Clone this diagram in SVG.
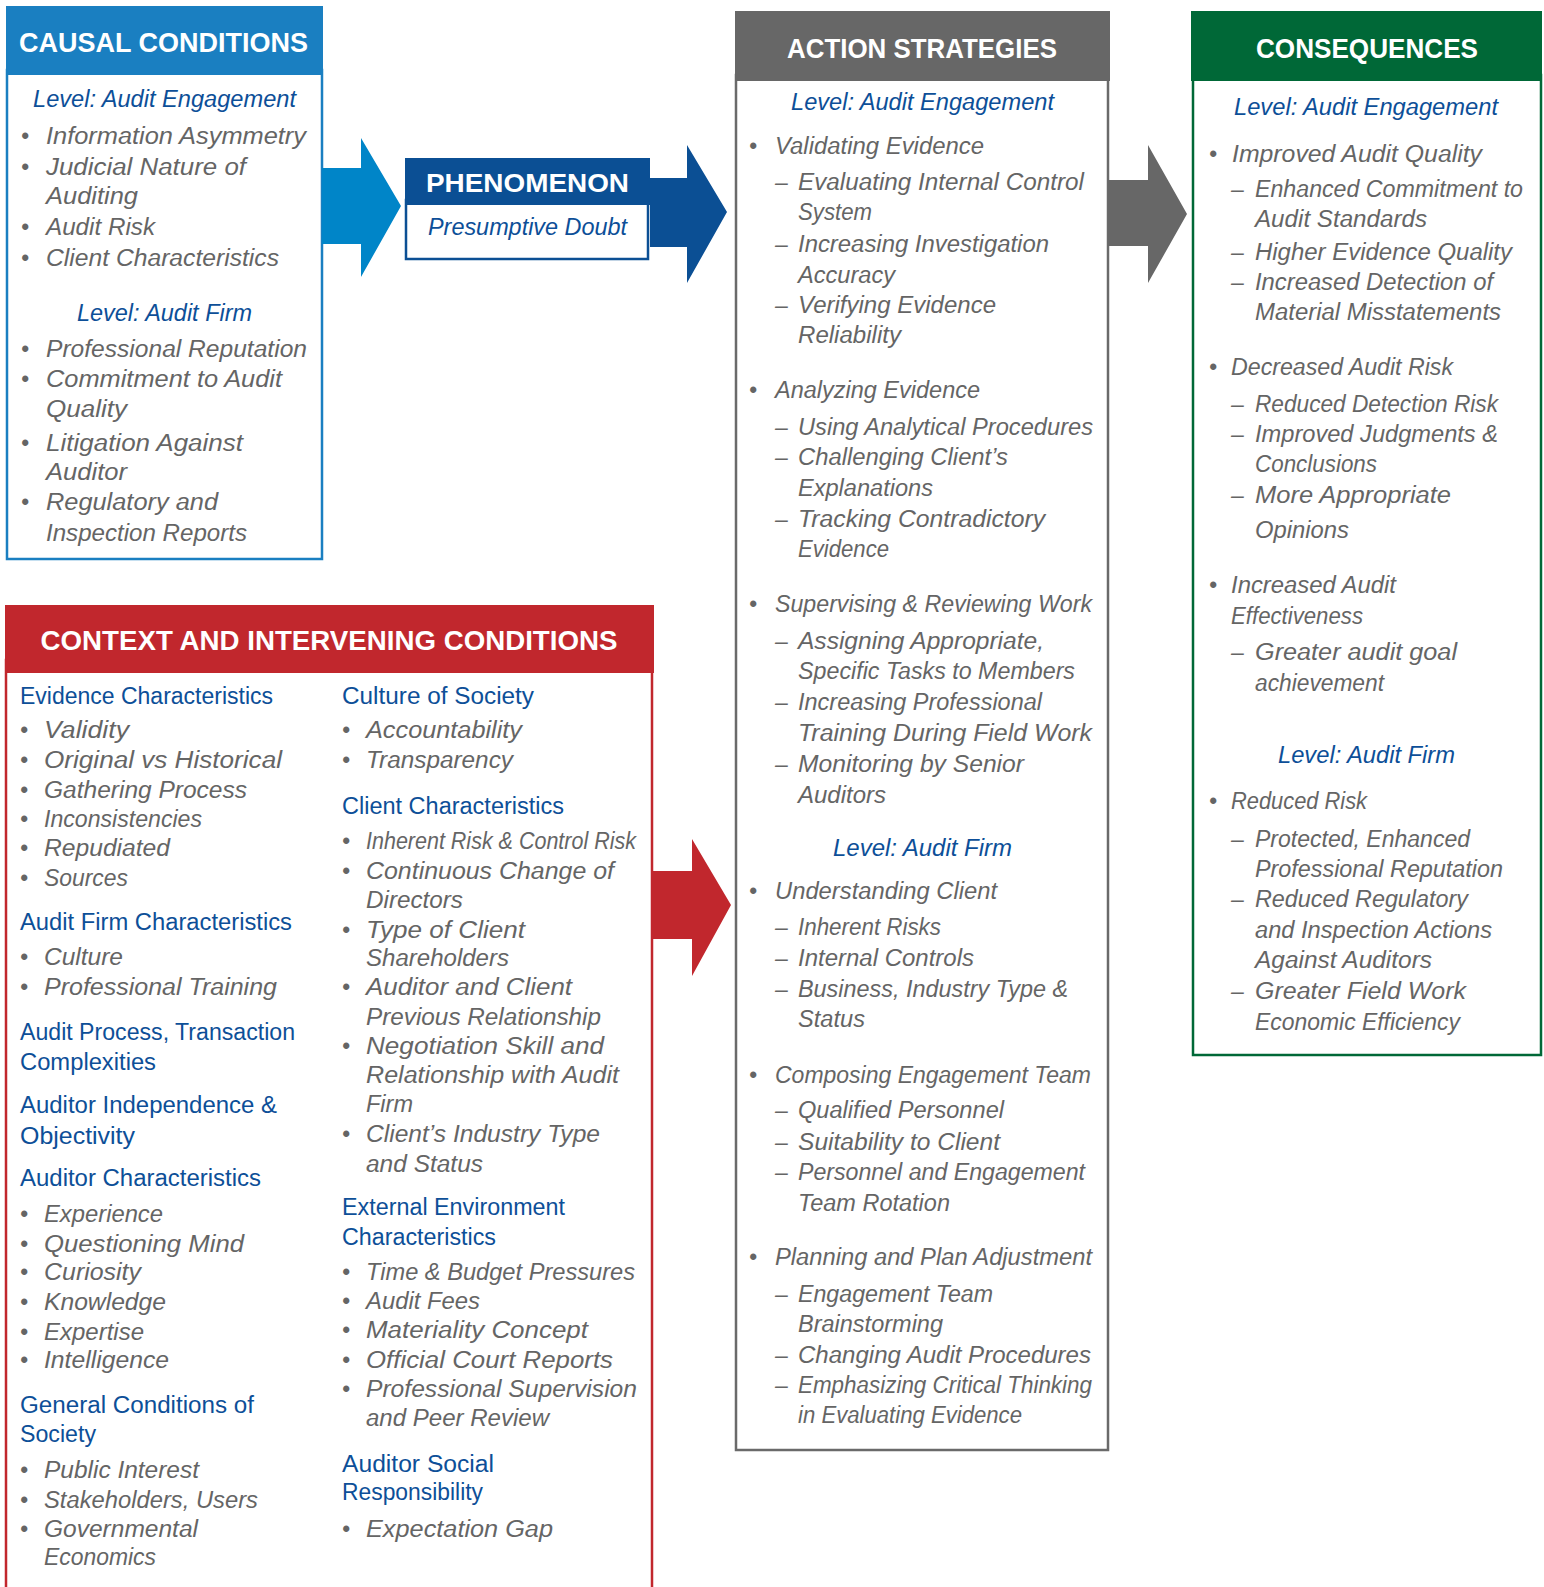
<svg xmlns="http://www.w3.org/2000/svg" width="1544" height="1587" viewBox="0 0 1544 1587">
<style>
.t{font-family:"Liberation Sans",Arial,sans-serif;font-size:23px;font-style:italic;fill:#656565}
.b{fill:#0d4f98}
.u{font-style:normal}
.m{text-anchor:middle}
.hd{font-family:"Liberation Sans",Arial,sans-serif;font-weight:bold;fill:#ffffff;font-size:28px}
.bx{fill:#ffffff;stroke-width:2.5}
</style>
<rect width="1544" height="1587" fill="#ffffff"/>

<g id="causal">
<rect class="bx" x="7" y="70" width="315" height="489" stroke="#1a7fc1"/>
<rect x="6" y="6" width="317" height="69" fill="#1a7fc1"/>
<text class="hd" x="19" y="52" textLength="289" lengthAdjust="spacingAndGlyphs">CAUSAL CONDITIONS</text>
<text class="t b m" x="164.5" y="107" textLength="263" lengthAdjust="spacingAndGlyphs">Level: Audit Engagement</text>
<text class="t" x="21" y="144">•</text><text class="t" x="46" y="144" textLength="260" lengthAdjust="spacingAndGlyphs">Information Asymmetry</text>
<text class="t" x="21" y="175">•</text><text class="t" x="46" y="175" textLength="200" lengthAdjust="spacingAndGlyphs">Judicial Nature of</text>
<text class="t" x="46" y="204" textLength="92" lengthAdjust="spacingAndGlyphs">Auditing</text>
<text class="t" x="21" y="235">•</text><text class="t" x="46" y="235" textLength="109" lengthAdjust="spacingAndGlyphs">Audit Risk</text>
<text class="t" x="21" y="266">•</text><text class="t" x="46" y="266" textLength="233" lengthAdjust="spacingAndGlyphs">Client Characteristics</text>
<text class="t b m" x="164.5" y="321" textLength="175" lengthAdjust="spacingAndGlyphs">Level: Audit Firm</text>
<text class="t" x="21" y="357">•</text><text class="t" x="46" y="357" textLength="261" lengthAdjust="spacingAndGlyphs">Professional Reputation</text>
<text class="t" x="21" y="387">•</text><text class="t" x="46" y="387" textLength="236" lengthAdjust="spacingAndGlyphs">Commitment to Audit</text>
<text class="t" x="46" y="417" textLength="81" lengthAdjust="spacingAndGlyphs">Quality</text>
<text class="t" x="21" y="451">•</text><text class="t" x="46" y="451" textLength="197" lengthAdjust="spacingAndGlyphs">Litigation Against</text>
<text class="t" x="46" y="480" textLength="81" lengthAdjust="spacingAndGlyphs">Auditor</text>
<text class="t" x="21" y="510">•</text><text class="t" x="46" y="510" textLength="172" lengthAdjust="spacingAndGlyphs">Regulatory and</text>
<text class="t" x="46" y="541" textLength="201" lengthAdjust="spacingAndGlyphs">Inspection Reports</text>
</g>

<g id="phenomenon">
<rect class="bx" x="406" y="200" width="242" height="59" stroke="#0b4f94"/>
<rect x="405" y="158" width="245" height="47" fill="#0b4f94"/>
<text class="hd" x="426" y="192" style="font-size:26px" textLength="203" lengthAdjust="spacingAndGlyphs">PHENOMENON</text>
<text class="t b m" x="527.5" y="235" textLength="199" lengthAdjust="spacingAndGlyphs">Presumptive Doubt</text>
</g>

<g id="action">
<rect class="bx" x="736" y="75" width="372" height="1375" stroke="#6a6a6a"/>
<rect x="735" y="11" width="375" height="70" fill="#676767"/>
<text class="hd" x="787" y="58" textLength="270" lengthAdjust="spacingAndGlyphs">ACTION STRATEGIES</text>
<text class="t b m" x="922.5" y="110" textLength="263" lengthAdjust="spacingAndGlyphs">Level: Audit Engagement</text>
<text class="t" x="749" y="154">•</text><text class="t" x="775" y="154" textLength="209" lengthAdjust="spacingAndGlyphs">Validating Evidence</text>
<text class="t" x="775" y="190">–</text><text class="t" x="798" y="190" textLength="286" lengthAdjust="spacingAndGlyphs">Evaluating Internal Control</text>
<text class="t" x="798" y="220" textLength="74" lengthAdjust="spacingAndGlyphs">System</text>
<text class="t" x="775" y="252">–</text><text class="t" x="798" y="252" textLength="251" lengthAdjust="spacingAndGlyphs">Increasing Investigation</text>
<text class="t" x="798" y="283" textLength="97" lengthAdjust="spacingAndGlyphs">Accuracy</text>
<text class="t" x="775" y="313">–</text><text class="t" x="798" y="313" textLength="198" lengthAdjust="spacingAndGlyphs">Verifying Evidence</text>
<text class="t" x="798" y="343" textLength="103" lengthAdjust="spacingAndGlyphs">Reliability</text>
<text class="t" x="749" y="398">•</text><text class="t" x="775" y="398" textLength="205" lengthAdjust="spacingAndGlyphs">Analyzing Evidence</text>
<text class="t" x="775" y="435">–</text><text class="t" x="798" y="435" textLength="295" lengthAdjust="spacingAndGlyphs">Using Analytical Procedures</text>
<text class="t" x="775" y="465">–</text><text class="t" x="798" y="465" textLength="210" lengthAdjust="spacingAndGlyphs">Challenging Client’s</text>
<text class="t" x="798" y="496" textLength="135" lengthAdjust="spacingAndGlyphs">Explanations</text>
<text class="t" x="775" y="527">–</text><text class="t" x="798" y="527" textLength="247" lengthAdjust="spacingAndGlyphs">Tracking Contradictory</text>
<text class="t" x="798" y="557" textLength="91" lengthAdjust="spacingAndGlyphs">Evidence</text>
<text class="t" x="749" y="612">•</text><text class="t" x="775" y="612" textLength="317" lengthAdjust="spacingAndGlyphs">Supervising &amp; Reviewing Work</text>
<text class="t" x="775" y="649">–</text><text class="t" x="798" y="649" textLength="246" lengthAdjust="spacingAndGlyphs">Assigning Appropriate,</text>
<text class="t" x="798" y="679" textLength="277" lengthAdjust="spacingAndGlyphs">Specific Tasks to Members</text>
<text class="t" x="775" y="710">–</text><text class="t" x="798" y="710" textLength="244" lengthAdjust="spacingAndGlyphs">Increasing Professional</text>
<text class="t" x="798" y="741" textLength="294" lengthAdjust="spacingAndGlyphs">Training During Field Work</text>
<text class="t" x="775" y="772">–</text><text class="t" x="798" y="772" textLength="226" lengthAdjust="spacingAndGlyphs">Monitoring by Senior</text>
<text class="t" x="798" y="803" textLength="88" lengthAdjust="spacingAndGlyphs">Auditors</text>
<text class="t b m" x="922.5" y="856" textLength="179" lengthAdjust="spacingAndGlyphs">Level: Audit Firm</text>
<text class="t" x="749" y="899">•</text><text class="t" x="775" y="899" textLength="222" lengthAdjust="spacingAndGlyphs">Understanding Client</text>
<text class="t" x="775" y="935">–</text><text class="t" x="798" y="935" textLength="143" lengthAdjust="spacingAndGlyphs">Inherent Risks</text>
<text class="t" x="775" y="966">–</text><text class="t" x="798" y="966" textLength="176" lengthAdjust="spacingAndGlyphs">Internal Controls</text>
<text class="t" x="775" y="997">–</text><text class="t" x="798" y="997" textLength="270" lengthAdjust="spacingAndGlyphs">Business, Industry Type &amp;</text>
<text class="t" x="798" y="1027" textLength="67" lengthAdjust="spacingAndGlyphs">Status</text>
<text class="t" x="749" y="1083">•</text><text class="t" x="775" y="1083" textLength="316" lengthAdjust="spacingAndGlyphs">Composing Engagement Team</text>
<text class="t" x="775" y="1118">–</text><text class="t" x="798" y="1118" textLength="206" lengthAdjust="spacingAndGlyphs">Qualified Personnel</text>
<text class="t" x="775" y="1150">–</text><text class="t" x="798" y="1150" textLength="202" lengthAdjust="spacingAndGlyphs">Suitability to Client</text>
<text class="t" x="775" y="1180">–</text><text class="t" x="798" y="1180" textLength="287" lengthAdjust="spacingAndGlyphs">Personnel and Engagement</text>
<text class="t" x="798" y="1211" textLength="152" lengthAdjust="spacingAndGlyphs">Team Rotation</text>
<text class="t" x="749" y="1265">•</text><text class="t" x="775" y="1265" textLength="317" lengthAdjust="spacingAndGlyphs">Planning and Plan Adjustment</text>
<text class="t" x="775" y="1302">–</text><text class="t" x="798" y="1302" textLength="195" lengthAdjust="spacingAndGlyphs">Engagement Team</text>
<text class="t" x="798" y="1332" textLength="145" lengthAdjust="spacingAndGlyphs">Brainstorming</text>
<text class="t" x="775" y="1363">–</text><text class="t" x="798" y="1363" textLength="293" lengthAdjust="spacingAndGlyphs">Changing Audit Procedures</text>
<text class="t" x="775" y="1393">–</text><text class="t" x="798" y="1393" textLength="294" lengthAdjust="spacingAndGlyphs">Emphasizing Critical Thinking</text>
<text class="t" x="798" y="1423" textLength="224" lengthAdjust="spacingAndGlyphs">in Evaluating Evidence</text>
</g>

<g id="consequences">
<rect class="bx" x="1193" y="75" width="348" height="980" stroke="#006837"/>
<rect x="1191" y="11" width="351" height="70" fill="#006837"/>
<text class="hd" x="1256" y="58" textLength="222" lengthAdjust="spacingAndGlyphs">CONSEQUENCES</text>
<text class="t b m" x="1366" y="115" textLength="264" lengthAdjust="spacingAndGlyphs">Level: Audit Engagement</text>
<text class="t" x="1209" y="162">•</text><text class="t" x="1232" y="162" textLength="250" lengthAdjust="spacingAndGlyphs">Improved Audit Quality</text>
<text class="t" x="1231" y="197">–</text><text class="t" x="1255" y="197" textLength="268" lengthAdjust="spacingAndGlyphs">Enhanced Commitment to</text>
<text class="t" x="1255" y="227" textLength="172" lengthAdjust="spacingAndGlyphs">Audit Standards</text>
<text class="t" x="1231" y="260">–</text><text class="t" x="1255" y="260" textLength="257" lengthAdjust="spacingAndGlyphs">Higher Evidence Quality</text>
<text class="t" x="1231" y="290">–</text><text class="t" x="1255" y="290" textLength="238" lengthAdjust="spacingAndGlyphs">Increased Detection of</text>
<text class="t" x="1255" y="320" textLength="246" lengthAdjust="spacingAndGlyphs">Material Misstatements</text>
<text class="t" x="1209" y="375">•</text><text class="t" x="1231" y="375" textLength="222" lengthAdjust="spacingAndGlyphs">Decreased Audit Risk</text>
<text class="t" x="1231" y="412">–</text><text class="t" x="1255" y="412" textLength="243" lengthAdjust="spacingAndGlyphs">Reduced Detection Risk</text>
<text class="t" x="1231" y="442">–</text><text class="t" x="1255" y="442" textLength="243" lengthAdjust="spacingAndGlyphs">Improved Judgments &amp;</text>
<text class="t" x="1255" y="472" textLength="122" lengthAdjust="spacingAndGlyphs">Conclusions</text>
<text class="t" x="1231" y="503">–</text><text class="t" x="1255" y="503" textLength="196" lengthAdjust="spacingAndGlyphs">More Appropriate</text>
<text class="t" x="1255" y="538" textLength="94" lengthAdjust="spacingAndGlyphs">Opinions</text>
<text class="t" x="1209" y="593">•</text><text class="t" x="1231" y="593" textLength="165" lengthAdjust="spacingAndGlyphs">Increased Audit</text>
<text class="t" x="1231" y="624" textLength="132" lengthAdjust="spacingAndGlyphs">Effectiveness</text>
<text class="t" x="1231" y="660">–</text><text class="t" x="1255" y="660" textLength="202" lengthAdjust="spacingAndGlyphs">Greater audit goal</text>
<text class="t" x="1255" y="691" textLength="129" lengthAdjust="spacingAndGlyphs">achievement</text>
<text class="t b m" x="1366.5" y="763" textLength="177" lengthAdjust="spacingAndGlyphs">Level: Audit Firm</text>
<text class="t" x="1209" y="809">•</text><text class="t" x="1231" y="809" textLength="136" lengthAdjust="spacingAndGlyphs">Reduced Risk</text>
<text class="t" x="1231" y="847">–</text><text class="t" x="1255" y="847" textLength="215" lengthAdjust="spacingAndGlyphs">Protected, Enhanced</text>
<text class="t" x="1255" y="877" textLength="248" lengthAdjust="spacingAndGlyphs">Professional Reputation</text>
<text class="t" x="1231" y="907">–</text><text class="t" x="1255" y="907" textLength="213" lengthAdjust="spacingAndGlyphs">Reduced Regulatory</text>
<text class="t" x="1255" y="938" textLength="237" lengthAdjust="spacingAndGlyphs">and Inspection Actions</text>
<text class="t" x="1255" y="968" textLength="177" lengthAdjust="spacingAndGlyphs">Against Auditors</text>
<text class="t" x="1231" y="999">–</text><text class="t" x="1255" y="999" textLength="211" lengthAdjust="spacingAndGlyphs">Greater Field Work</text>
<text class="t" x="1255" y="1030" textLength="205" lengthAdjust="spacingAndGlyphs">Economic Efficiency</text>
</g>

<g id="context">
<rect class="bx" x="6" y="660" width="646" height="960" stroke="#c1272d"/>
<rect x="5" y="605" width="649" height="68" fill="#c1272d"/>
<text class="hd" x="40.5" y="650" style="font-size:27px" textLength="577" lengthAdjust="spacingAndGlyphs">CONTEXT AND INTERVENING CONDITIONS</text>
<text class="t b u" x="20" y="704" textLength="253" lengthAdjust="spacingAndGlyphs">Evidence Characteristics</text>
<text class="t" x="20" y="738">•</text><text class="t" x="44" y="738" textLength="85" lengthAdjust="spacingAndGlyphs">Validity</text>
<text class="t" x="20" y="768">•</text><text class="t" x="44" y="768" textLength="238" lengthAdjust="spacingAndGlyphs">Original vs Historical</text>
<text class="t" x="20" y="798">•</text><text class="t" x="44" y="798" textLength="203" lengthAdjust="spacingAndGlyphs">Gathering Process</text>
<text class="t" x="20" y="827">•</text><text class="t" x="44" y="827" textLength="158" lengthAdjust="spacingAndGlyphs">Inconsistencies</text>
<text class="t" x="20" y="856">•</text><text class="t" x="44" y="856" textLength="126" lengthAdjust="spacingAndGlyphs">Repudiated</text>
<text class="t" x="20" y="886">•</text><text class="t" x="44" y="886" textLength="84" lengthAdjust="spacingAndGlyphs">Sources</text>
<text class="t b u" x="20" y="930" textLength="272" lengthAdjust="spacingAndGlyphs">Audit Firm Characteristics</text>
<text class="t" x="20" y="965">•</text><text class="t" x="44" y="965" textLength="79" lengthAdjust="spacingAndGlyphs">Culture</text>
<text class="t" x="20" y="995">•</text><text class="t" x="44" y="995" textLength="233" lengthAdjust="spacingAndGlyphs">Professional Training</text>
<text class="t b u" x="20" y="1040" textLength="275" lengthAdjust="spacingAndGlyphs">Audit Process, Transaction</text>
<text class="t b u" x="20" y="1070" textLength="136" lengthAdjust="spacingAndGlyphs">Complexities</text>
<text class="t b u" x="20" y="1113" textLength="257" lengthAdjust="spacingAndGlyphs">Auditor Independence &amp;</text>
<text class="t b u" x="20" y="1144" textLength="115" lengthAdjust="spacingAndGlyphs">Objectivity</text>
<text class="t b u" x="20" y="1186" textLength="241" lengthAdjust="spacingAndGlyphs">Auditor Characteristics</text>
<text class="t" x="20" y="1222">•</text><text class="t" x="44" y="1222" textLength="119" lengthAdjust="spacingAndGlyphs">Experience</text>
<text class="t" x="20" y="1252">•</text><text class="t" x="44" y="1252" textLength="200" lengthAdjust="spacingAndGlyphs">Questioning Mind</text>
<text class="t" x="20" y="1280">•</text><text class="t" x="44" y="1280" textLength="97" lengthAdjust="spacingAndGlyphs">Curiosity</text>
<text class="t" x="20" y="1310">•</text><text class="t" x="44" y="1310" textLength="122" lengthAdjust="spacingAndGlyphs">Knowledge</text>
<text class="t" x="20" y="1340">•</text><text class="t" x="44" y="1340" textLength="100" lengthAdjust="spacingAndGlyphs">Expertise</text>
<text class="t" x="20" y="1368">•</text><text class="t" x="44" y="1368" textLength="125" lengthAdjust="spacingAndGlyphs">Intelligence</text>
<text class="t b u" x="20" y="1413" textLength="234" lengthAdjust="spacingAndGlyphs">General Conditions of</text>
<text class="t b u" x="20" y="1442" textLength="76" lengthAdjust="spacingAndGlyphs">Society</text>
<text class="t" x="20" y="1478">•</text><text class="t" x="44" y="1478" textLength="155" lengthAdjust="spacingAndGlyphs">Public Interest</text>
<text class="t" x="20" y="1508">•</text><text class="t" x="44" y="1508" textLength="214" lengthAdjust="spacingAndGlyphs">Stakeholders, Users</text>
<text class="t" x="20" y="1537">•</text><text class="t" x="44" y="1537" textLength="154" lengthAdjust="spacingAndGlyphs">Governmental</text>
<text class="t" x="44" y="1565" textLength="112" lengthAdjust="spacingAndGlyphs">Economics</text>

<text class="t b u" x="342" y="704" textLength="192" lengthAdjust="spacingAndGlyphs">Culture of Society</text>
<text class="t" x="342" y="738">•</text><text class="t" x="366" y="738" textLength="156" lengthAdjust="spacingAndGlyphs">Accountability</text>
<text class="t" x="342" y="768">•</text><text class="t" x="366" y="768" textLength="147" lengthAdjust="spacingAndGlyphs">Transparency</text>
<text class="t b u" x="342" y="814" textLength="222" lengthAdjust="spacingAndGlyphs">Client Characteristics</text>
<text class="t" x="342" y="849">•</text><text class="t" x="366" y="849" textLength="270" lengthAdjust="spacingAndGlyphs">Inherent Risk &amp; Control Risk</text>
<text class="t" x="342" y="879">•</text><text class="t" x="366" y="879" textLength="248" lengthAdjust="spacingAndGlyphs">Continuous Change of</text>
<text class="t" x="366" y="908" textLength="97" lengthAdjust="spacingAndGlyphs">Directors</text>
<text class="t" x="342" y="938">•</text><text class="t" x="366" y="938" textLength="159" lengthAdjust="spacingAndGlyphs">Type of Client</text>
<text class="t" x="366" y="966" textLength="143" lengthAdjust="spacingAndGlyphs">Shareholders</text>
<text class="t" x="342" y="995">•</text><text class="t" x="366" y="995" textLength="206" lengthAdjust="spacingAndGlyphs">Auditor and Client</text>
<text class="t" x="366" y="1025" textLength="235" lengthAdjust="spacingAndGlyphs">Previous Relationship</text>
<text class="t" x="342" y="1054">•</text><text class="t" x="366" y="1054" textLength="238" lengthAdjust="spacingAndGlyphs">Negotiation Skill and</text>
<text class="t" x="366" y="1083" textLength="253" lengthAdjust="spacingAndGlyphs">Relationship with Audit</text>
<text class="t" x="366" y="1112" textLength="47" lengthAdjust="spacingAndGlyphs">Firm</text>
<text class="t" x="342" y="1142">•</text><text class="t" x="366" y="1142" textLength="234" lengthAdjust="spacingAndGlyphs">Client’s Industry Type</text>
<text class="t" x="366" y="1172" textLength="117" lengthAdjust="spacingAndGlyphs">and Status</text>
<text class="t b u" x="342" y="1215" textLength="223" lengthAdjust="spacingAndGlyphs">External Environment</text>
<text class="t b u" x="342" y="1245" textLength="154" lengthAdjust="spacingAndGlyphs">Characteristics</text>
<text class="t" x="342" y="1280">•</text><text class="t" x="366" y="1280" textLength="269" lengthAdjust="spacingAndGlyphs">Time &amp; Budget Pressures</text>
<text class="t" x="342" y="1309">•</text><text class="t" x="366" y="1309" textLength="114" lengthAdjust="spacingAndGlyphs">Audit Fees</text>
<text class="t" x="342" y="1338">•</text><text class="t" x="366" y="1338" textLength="222" lengthAdjust="spacingAndGlyphs">Materiality Concept</text>
<text class="t" x="342" y="1368">•</text><text class="t" x="366" y="1368" textLength="247" lengthAdjust="spacingAndGlyphs">Official Court Reports</text>
<text class="t" x="342" y="1397">•</text><text class="t" x="366" y="1397" textLength="271" lengthAdjust="spacingAndGlyphs">Professional Supervision</text>
<text class="t" x="366" y="1426" textLength="183" lengthAdjust="spacingAndGlyphs">and Peer Review</text>
<text class="t b u" x="342" y="1472" textLength="152" lengthAdjust="spacingAndGlyphs">Auditor Social</text>
<text class="t b u" x="342" y="1500" textLength="141" lengthAdjust="spacingAndGlyphs">Responsibility</text>
<text class="t" x="342" y="1537">•</text><text class="t" x="366" y="1537" textLength="187" lengthAdjust="spacingAndGlyphs">Expectation Gap</text>
</g>

<g id="connectors">
<polygon points="322,168 361,168 361,138 401,206 361,277 361,244 322,244" fill="#0085c8"/>
<polygon points="650,178 687,178 687,145 727,212 687,283 687,247 650,247" fill="#0b4f94"/>
<polygon points="1108,180 1148,180 1148,145 1187,214 1148,283 1148,246 1108,246" fill="#676767"/>
<polygon points="652,871 692,871 692,839 731,905 692,976 692,939 652,939" fill="#c1272d"/>
</g>
</svg>
